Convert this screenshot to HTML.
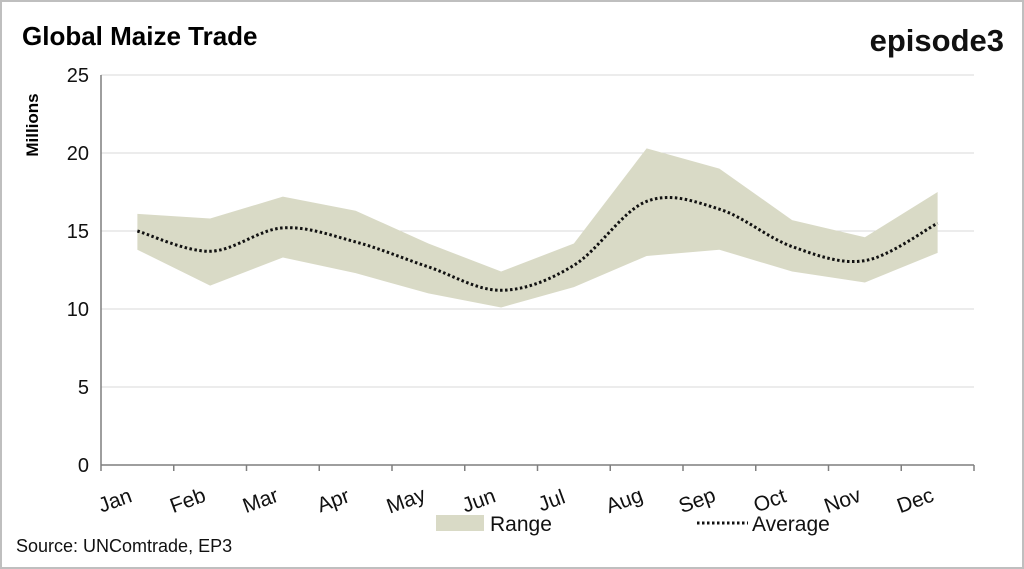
<!DOCTYPE html>
<html><head><meta charset="utf-8"><style>
body{margin:0;background:#fff;}
svg{display:block;font-family:"Liberation Sans",sans-serif;}
</style></head><body>
<svg width="1024" height="569" viewBox="0 0 1024 569">
<rect x="1" y="1" width="1022" height="567" fill="#fff" stroke="#bfbfbf" stroke-width="2"/>
<text x="22" y="45" font-size="26" font-weight="bold" fill="#000">Global Maize Trade</text>
<text x="1004" y="51" font-size="31" font-weight="bold" fill="#111" text-anchor="end">episode3</text>
<text transform="translate(38,125) rotate(-90)" font-size="17" font-weight="bold" text-anchor="middle">Millions</text>
<g id="grid"></g>
<g id="marks"></g>
<g id="axes"></g>
<rect x="436" y="515" width="48" height="16" fill="#d9dac6"/>
<text x="490" y="531" font-size="21" fill="#111">Range</text>
<line x1="697" y1="523" x2="748" y2="523" stroke="#111" stroke-width="3" stroke-dasharray="2.5 2.5"/>
<text x="752" y="531" font-size="21" fill="#111">Average</text>
<text x="16" y="552" font-size="18" fill="#111">Source: UNComtrade, EP3</text>
</svg>
<script>
const months=["Jan","Feb","Mar","Apr","May","Jun","Jul","Aug","Sep","Oct","Nov","Dec"];
const rangeHigh=[16.1,15.8,17.2,16.3,14.2,12.4,14.2,20.3,19.0,15.7,14.6,17.5];
const rangeLow=[13.8,11.5,13.3,12.3,11.0,10.1,11.4,13.4,13.8,12.4,11.7,13.6];
const average=[15.0,13.7,15.2,14.3,12.7,11.2,12.8,16.9,16.4,14.0,13.1,15.5];
const yTicks=[0,5,10,15,20,25];
const NS="http://www.w3.org/2000/svg";
const X0=101,X1=974,Y0=465,Y1=75,YMAX=25;
const step=(X1-X0)/months.length;
const xs=i=>X0+step*(i+0.5);
const ys=v=>Y0-(v/YMAX)*(Y0-Y1);
function mk(tag,attrs,parent){const e=document.createElementNS(NS,tag);for(const k in attrs)e.setAttribute(k,attrs[k]);document.getElementById(parent).appendChild(e);return e;}
yTicks.forEach(t=>{
  if(t>0){const g=mk("line",{x1:X0,x2:X1,y1:ys(t),y2:ys(t),stroke:"#d9d9d9","stroke-width":1},"grid");
  
  }
  const l=mk("text",{x:X0-12,y:ys(t)+7,"font-size":20,"text-anchor":"end",fill:"#111"},"axes");
  l.textContent=t;
  
  
});
let d="M"+xs(0)+","+ys(rangeHigh[0]);
rangeHigh.forEach((v,i)=>{if(i)d+=" L"+xs(i)+","+ys(v);});
for(let i=rangeLow.length-1;i>=0;i--)d+=" L"+xs(i)+","+ys(rangeLow[i]);
const area=mk("path",{d:d+"Z",fill:"#d9dac6"},"marks");


const pts=average.map((v,i)=>[xs(i),ys(v)]);
let p="M"+pts[0][0]+","+pts[0][1];
for(let i=0;i<pts.length-1;i++){
  const a=pts[i-1]||pts[i],b=pts[i],c=pts[i+1],e=pts[i+2]||c;
  p+=` C${b[0]+(c[0]-a[0])/6},${b[1]+(c[1]-a[1])/6} ${c[0]-(e[0]-b[0])/6},${c[1]-(e[1]-b[1])/6} ${c[0]},${c[1]}`;
}
const line=mk("path",{d:p,fill:"none",stroke:"#111","stroke-width":3,"stroke-dasharray":"2.5 2.5"},"marks");


const ax=mk("line",{x1:X0,x2:X1,y1:Y0,y2:Y0,stroke:"#7f7f7f","stroke-width":1.5},"axes");


const ay=mk("line",{x1:X0,x2:X0,y1:Y1,y2:Y0,stroke:"#7f7f7f","stroke-width":1.5},"axes");


for(let i=0;i<=months.length;i++){
  const tk=mk("line",{x1:X0+step*i,x2:X0+step*i,y1:Y0,y2:Y0+6,stroke:"#7f7f7f","stroke-width":1.5},"axes");
  
  
}
months.forEach((m,i)=>{
  const x=xs(i)-20,y=Y0+42;
  const t=mk("text",{x:x,y:y,"font-size":21,"text-anchor":"middle",fill:"#111",transform:`rotate(-20 ${x} ${y})`},"axes");
  t.textContent=m;
  
  
});
</script>
</body></html>
